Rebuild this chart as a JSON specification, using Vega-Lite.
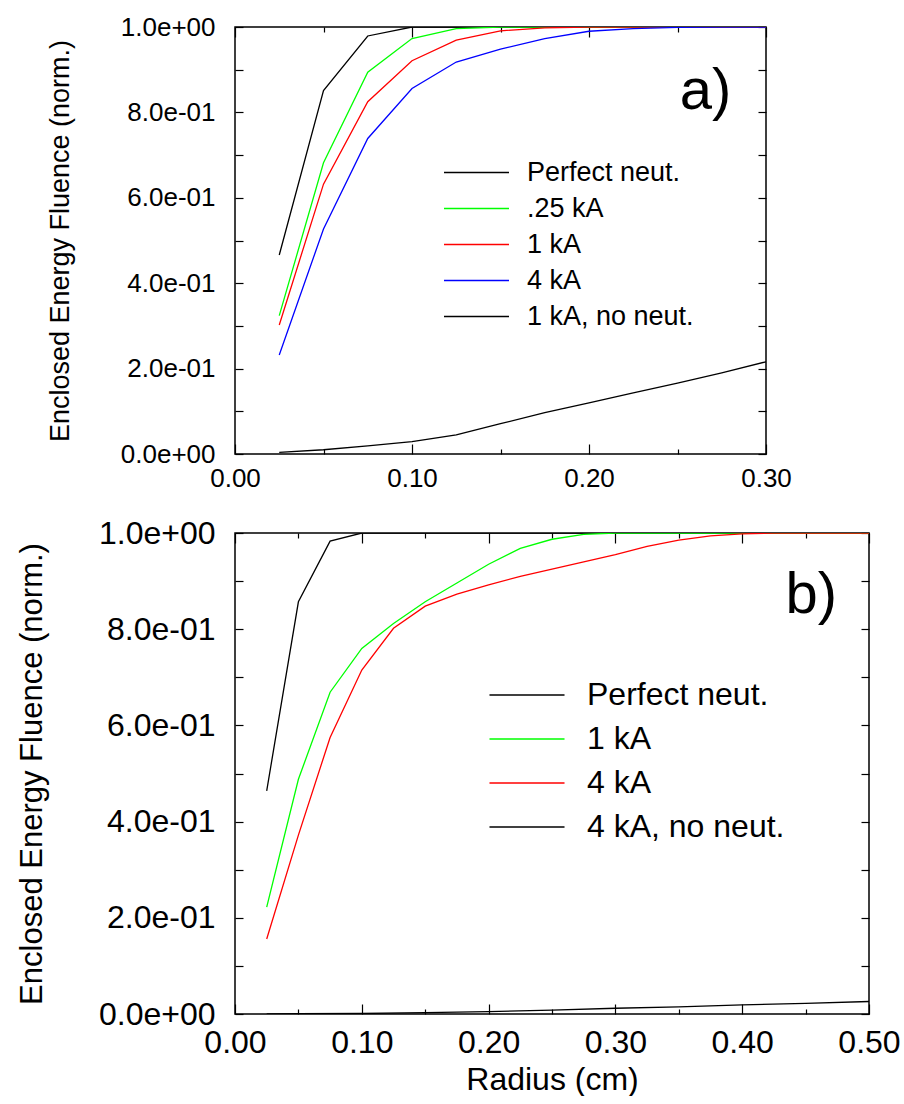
{
  "$schema": "https://vega.github.io/schema/vega-lite/v6.json",
  "background": "white",
  "padding": {"left": 15, "top": 13, "right": 0, "bottom": 0},
  "spacing": 24,
  "config": {
    "font": "Liberation Sans",
    "view": {"stroke": "black", "strokeWidth": 1.5},
    "axis": {"domain": false, "grid": false, "labelFlush": false, "tickColor": "black", "tickWidth": 1.2, "tickSize": -8, "labelColor": "black", "labelFont": "Liberation Sans", "titleFont": "Liberation Sans", "titleColor": "black", "titleFontWeight": "normal"},
    "legend": {"padding": 0, "labelFont": "Liberation Sans", "labelColor": "black", "labelLimit": 0, "symbolType": "M-4,0H4"},
    "title": {"font": "Liberation Sans", "fontWeight": "normal", "color": "black"}
  },
  "resolve": {"scale": {"color": "independent", "strokeWidth": "independent"}, "legend": {"color": "independent", "strokeWidth": "independent"}},
  "vconcat": [
    {
      "width": 531,
      "height": 427,
      "title": {"text": "a)", "anchor": "end", "fontSize": 58, "offset": -153, "baseline": "alphabetic", "dx": -60},
      "data": {"values": [
        {"series": "Perfect neut.", "r": 0.025, "v": 0.466},
        {"series": "Perfect neut.", "r": 0.05, "v": 0.851},
        {"series": "Perfect neut.", "r": 0.075, "v": 0.979},
        {"series": "Perfect neut.", "r": 0.1, "v": 1.0},
        {"series": "Perfect neut.", "r": 0.3, "v": 1.0},
        {"series": ".25 kA", "r": 0.025, "v": 0.324},
        {"series": ".25 kA", "r": 0.05, "v": 0.682},
        {"series": ".25 kA", "r": 0.075, "v": 0.894},
        {"series": ".25 kA", "r": 0.1, "v": 0.973},
        {"series": ".25 kA", "r": 0.125, "v": 0.996},
        {"series": ".25 kA", "r": 0.15, "v": 1.0},
        {"series": ".25 kA", "r": 0.3, "v": 1.0},
        {"series": "1 kA", "r": 0.025, "v": 0.302},
        {"series": "1 kA", "r": 0.05, "v": 0.632},
        {"series": "1 kA", "r": 0.075, "v": 0.825},
        {"series": "1 kA", "r": 0.1, "v": 0.921},
        {"series": "1 kA", "r": 0.125, "v": 0.969},
        {"series": "1 kA", "r": 0.15, "v": 0.991},
        {"series": "1 kA", "r": 0.175, "v": 0.998},
        {"series": "1 kA", "r": 0.2, "v": 1.0},
        {"series": "1 kA", "r": 0.3, "v": 1.0},
        {"series": "4 kA", "r": 0.025, "v": 0.232},
        {"series": "4 kA", "r": 0.05, "v": 0.527},
        {"series": "4 kA", "r": 0.075, "v": 0.739},
        {"series": "4 kA", "r": 0.1, "v": 0.856},
        {"series": "4 kA", "r": 0.125, "v": 0.918},
        {"series": "4 kA", "r": 0.15, "v": 0.948},
        {"series": "4 kA", "r": 0.175, "v": 0.973},
        {"series": "4 kA", "r": 0.2, "v": 0.99},
        {"series": "4 kA", "r": 0.225, "v": 0.996},
        {"series": "4 kA", "r": 0.25, "v": 0.999},
        {"series": "4 kA", "r": 0.275, "v": 1.0},
        {"series": "4 kA", "r": 0.3, "v": 1.0},
        {"series": "1 kA, no neut.", "r": 0.025, "v": 0.004},
        {"series": "1 kA, no neut.", "r": 0.05, "v": 0.01},
        {"series": "1 kA, no neut.", "r": 0.075, "v": 0.019},
        {"series": "1 kA, no neut.", "r": 0.1, "v": 0.029},
        {"series": "1 kA, no neut.", "r": 0.125, "v": 0.045},
        {"series": "1 kA, no neut.", "r": 0.15, "v": 0.071},
        {"series": "1 kA, no neut.", "r": 0.175, "v": 0.097},
        {"series": "1 kA, no neut.", "r": 0.2, "v": 0.12},
        {"series": "1 kA, no neut.", "r": 0.225, "v": 0.143},
        {"series": "1 kA, no neut.", "r": 0.25, "v": 0.166},
        {"series": "1 kA, no neut.", "r": 0.275, "v": 0.19},
        {"series": "1 kA, no neut.", "r": 0.3, "v": 0.216}
      ]},
      "resolve": {"axis": {"x": "independent", "y": "independent"}},
      "layer": [
        {
          "mark": {"type": "line", "clip": true},
          "encoding": {
            "x": {"field": "r", "type": "quantitative", "scale": {"domain": [0, 0.3], "nice": false},
              "axis": {"orient": "bottom", "title": null, "values": [0, 0.05, 0.1, 0.15, 0.2, 0.25, 0.3], "labelExpr": "round(datum.value*100) % 10 == 0 ? format(datum.value, '.2f') : ''", "labelFontSize": 26, "labelPadding": 21,
                "tickSize": {"condition": {"test": "round(datum.value*100) % 10 != 0", "value": -5}, "value": -10}}},
            "y": {"field": "v", "type": "quantitative", "scale": {"domain": [0, 1], "nice": false},
              "axis": {"orient": "left", "title": "Enclosed Energy Fluence (norm.)", "titleFontSize": 27, "titlePadding": 46, "values": [0, 0.1, 0.2, 0.3, 0.4, 0.5, 0.6, 0.7, 0.8, 0.9, 1.0], "labelExpr": "datum.value > 0.99 ? '1.0e+00' : datum.value < 0.01 ? '0.0e+00' : (round(datum.value*10) % 2 == 0 ? format(datum.value*10, '.1f') + 'e-01' : '')", "labelFontSize": 26, "labelPadding": 28}},
            "color": {"field": "series", "type": "nominal",
              "scale": {"domain": ["Perfect neut.", ".25 kA", "1 kA", "4 kA", "1 kA, no neut."], "range": ["#000000", "#00ff00", "#ff0000", "#0000ff", "#000000"]},
              "legend": {"title": null, "orient": "none", "legendX": 228, "legendY": 132, "symbolSize": 264, "labelOffset": 37, "labelFontSize": 27, "rowPadding": 8,
                "encode": {"symbols": {"update": {
                  "stroke": {"signal": "datum.value == '.25 kA' ? '#00ff00' : datum.value == '1 kA' ? '#ff0000' : datum.value == '4 kA' ? '#0000ff' : '#000000'"},
                  "strokeWidth": {"signal": "datum.value == '1 kA, no neut.' ? 3 : 1.3"}}}}}},
            "strokeWidth": {"field": "series", "type": "nominal",
              "scale": {"domain": ["Perfect neut.", ".25 kA", "1 kA", "4 kA", "1 kA, no neut."], "range": [1.3, 1.3, 1.3, 1.3, 3]},
              "legend": null}
          }
        },
        {
          "mark": {"type": "point", "opacity": 0},
          "encoding": {
            "x": {"field": "r", "type": "quantitative", "axis": {"orient": "top", "title": null, "labels": false, "values": [0, 0.05, 0.1, 0.15, 0.2, 0.25, 0.3],
              "tickSize": {"condition": {"test": "round(datum.value*100) % 10 != 0", "value": -5}, "value": -10}}},
            "y": {"field": "v", "type": "quantitative", "axis": {"orient": "right", "title": null, "labels": false, "values": [0, 0.1, 0.2, 0.3, 0.4, 0.5, 0.6, 0.7, 0.8, 0.9, 1.0]}}
          }
        }
      ]
    },
    {
      "width": 634,
      "height": 481,
      "title": {"text": "b)", "anchor": "end", "fontSize": 58, "offset": -154, "baseline": "alphabetic", "dx": -63},
      "data": {"values": [
        {"series": "Perfect neut.", "r": 0.025, "v": 0.464},
        {"series": "Perfect neut.", "r": 0.05, "v": 0.857},
        {"series": "Perfect neut.", "r": 0.075, "v": 0.983},
        {"series": "Perfect neut.", "r": 0.1, "v": 1.0},
        {"series": "Perfect neut.", "r": 0.5, "v": 1.0},
        {"series": "1 kA", "r": 0.025, "v": 0.222},
        {"series": "1 kA", "r": 0.05, "v": 0.488},
        {"series": "1 kA", "r": 0.075, "v": 0.669},
        {"series": "1 kA", "r": 0.1, "v": 0.76},
        {"series": "1 kA", "r": 0.125, "v": 0.812},
        {"series": "1 kA", "r": 0.15, "v": 0.857},
        {"series": "1 kA", "r": 0.175, "v": 0.896},
        {"series": "1 kA", "r": 0.2, "v": 0.935},
        {"series": "1 kA", "r": 0.225, "v": 0.968},
        {"series": "1 kA", "r": 0.25, "v": 0.987},
        {"series": "1 kA", "r": 0.275, "v": 0.997},
        {"series": "1 kA", "r": 0.3, "v": 1.0},
        {"series": "1 kA", "r": 0.5, "v": 1.0},
        {"series": "4 kA", "r": 0.025, "v": 0.156},
        {"series": "4 kA", "r": 0.05, "v": 0.372},
        {"series": "4 kA", "r": 0.075, "v": 0.575},
        {"series": "4 kA", "r": 0.1, "v": 0.715},
        {"series": "4 kA", "r": 0.125, "v": 0.802},
        {"series": "4 kA", "r": 0.15, "v": 0.848},
        {"series": "4 kA", "r": 0.175, "v": 0.873},
        {"series": "4 kA", "r": 0.2, "v": 0.892},
        {"series": "4 kA", "r": 0.225, "v": 0.91},
        {"series": "4 kA", "r": 0.25, "v": 0.925},
        {"series": "4 kA", "r": 0.275, "v": 0.94},
        {"series": "4 kA", "r": 0.3, "v": 0.955},
        {"series": "4 kA", "r": 0.325, "v": 0.972},
        {"series": "4 kA", "r": 0.35, "v": 0.985},
        {"series": "4 kA", "r": 0.375, "v": 0.994},
        {"series": "4 kA", "r": 0.4, "v": 0.998},
        {"series": "4 kA", "r": 0.425, "v": 1.0},
        {"series": "4 kA", "r": 0.5, "v": 1.0},
        {"series": "4 kA, no neut.", "r": 0.025, "v": 0.0},
        {"series": "4 kA, no neut.", "r": 0.05, "v": 0.0005},
        {"series": "4 kA, no neut.", "r": 0.1, "v": 0.001},
        {"series": "4 kA, no neut.", "r": 0.15, "v": 0.003},
        {"series": "4 kA, no neut.", "r": 0.2, "v": 0.005},
        {"series": "4 kA, no neut.", "r": 0.25, "v": 0.008},
        {"series": "4 kA, no neut.", "r": 0.3, "v": 0.012},
        {"series": "4 kA, no neut.", "r": 0.35, "v": 0.015},
        {"series": "4 kA, no neut.", "r": 0.4, "v": 0.019},
        {"series": "4 kA, no neut.", "r": 0.45, "v": 0.022},
        {"series": "4 kA, no neut.", "r": 0.5, "v": 0.026}
      ]},
      "resolve": {"axis": {"x": "independent", "y": "independent"}},
      "layer": [
        {
          "mark": {"type": "line", "clip": true},
          "encoding": {
            "x": {"field": "r", "type": "quantitative", "scale": {"domain": [0, 0.5], "nice": false},
              "axis": {"orient": "bottom", "title": "Radius (cm)", "titleFontSize": 32, "titlePadding": 6, "values": [0, 0.05, 0.1, 0.15, 0.2, 0.25, 0.3, 0.35, 0.4, 0.45, 0.5], "labelExpr": "round(datum.value*100) % 10 == 0 ? format(datum.value, '.2f') : ''", "labelFontSize": 32, "labelPadding": 23,
                "tickSize": {"condition": {"test": "round(datum.value*100) % 10 != 0", "value": -5}, "value": -10}}},
            "y": {"field": "v", "type": "quantitative", "scale": {"domain": [0, 1], "nice": false},
              "axis": {"orient": "left", "title": "Enclosed Energy Fluence (norm.)", "titleFontSize": 31, "titlePadding": 50, "values": [0, 0.1, 0.2, 0.3, 0.4, 0.5, 0.6, 0.7, 0.8, 0.9, 1.0], "labelExpr": "datum.value > 0.99 ? '1.0e+00' : datum.value < 0.01 ? '0.0e+00' : (round(datum.value*10) % 2 == 0 ? format(datum.value*10, '.1f') + 'e-01' : '')", "labelFontSize": 32, "labelPadding": 28}},
            "color": {"field": "series", "type": "nominal",
              "scale": {"domain": ["Perfect neut.", "1 kA", "4 kA", "4 kA, no neut."], "range": ["#000000", "#00ff00", "#ff0000", "#000000"]},
              "legend": {"title": null, "orient": "none", "legendX": 276, "legendY": 146, "symbolSize": 352, "labelOffset": 44, "labelFontSize": 32, "rowPadding": 12,
                "encode": {"symbols": {"update": {
                  "stroke": {"signal": "datum.value == '1 kA' ? '#00ff00' : datum.value == '4 kA' ? '#ff0000' : '#000000'"},
                  "strokeWidth": {"signal": "datum.value == '4 kA, no neut.' ? 3 : 1.3"}}}}}},
            "strokeWidth": {"field": "series", "type": "nominal",
              "scale": {"domain": ["Perfect neut.", "1 kA", "4 kA", "4 kA, no neut."], "range": [1.3, 1.3, 1.3, 3]},
              "legend": null}
          }
        },
        {
          "mark": {"type": "point", "opacity": 0},
          "encoding": {
            "x": {"field": "r", "type": "quantitative", "axis": {"orient": "top", "title": null, "labels": false, "values": [0, 0.05, 0.1, 0.15, 0.2, 0.25, 0.3, 0.35, 0.4, 0.45, 0.5],
              "tickSize": {"condition": {"test": "round(datum.value*100) % 10 != 0", "value": -5}, "value": -10}}},
            "y": {"field": "v", "type": "quantitative", "axis": {"orient": "right", "title": null, "labels": false, "values": [0, 0.1, 0.2, 0.3, 0.4, 0.5, 0.6, 0.7, 0.8, 0.9, 1.0]}}
          }
        }
      ]
    }
  ]
}
